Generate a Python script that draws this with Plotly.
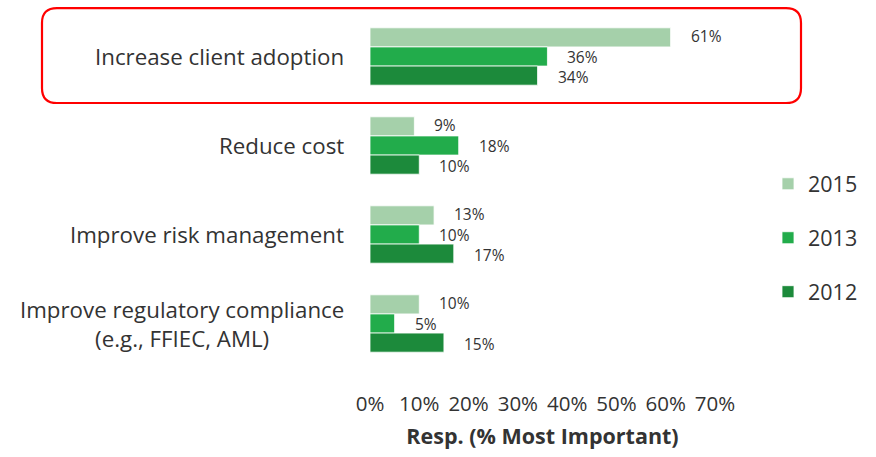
import plotly.graph_objects as go

# data --------------------------------------------------------------
categories = [
    "Increase client adoption",
    "Reduce cost",
    "Improve risk management",
    "Improve regulatory compliance<br>(e.g., FFIEC, AML)",
]
years = ["2015", "2013", "2012"]
vals_2015 = [61, 9, 13, 10]
vals_2013 = [36, 18, 10, 5]
vals_2012 = [34, 10, 17, 15]
x_ticks = [0, 10, 20, 30, 40, 50, 60, 70]

series = [vals_2015, vals_2013, vals_2012]
colors = ["#a5d0aa", "#22ac4b", "#1c8a3b"]

FONT = "'Open Sans', Lato, sans-serif"
TXT = "#333333"

W, H = 876, 457
L, R, T, B = 370, 161, 12, 85
PW, PH = W - L - R, H - T - B


def px(x, y):
    # pixel -> paper coords
    return (x - L) / PW, (H - B - y) / PH


fig = go.Figure()
for yr, vals, col in zip(years, series, colors):
    fig.add_bar(
        y=categories, x=vals, name=yr, orientation="h",
        marker=dict(color=col, line=dict(color="white", width=0.8)),
        legendgroup=yr, hoverinfo="skip",
    )

# value labels, one per bar
offsets = [-20.5, 0, 20.5]
for vals, dy in zip(series, offsets):
    for cat, v in zip(categories, vals):
        fig.add_annotation(
            x=v, y=cat, text=f"{v}%", showarrow=False,
            xanchor="left", xshift=18, yshift=-dy,
            font=dict(family=FONT, size=15.5, color=TXT),
        )

# category labels (centred multi-line like the original)
for cat in categories:
    fig.add_annotation(
        x=0, y=cat, xref="paper", text=cat, showarrow=False,
        xanchor="right", align="center", xshift=-24,
        font=dict(family=FONT, size=22.3, color=TXT),
    )

# rounded red highlight box
x0, y0 = px(42, 8)
x1, y1 = px(801, 104)
rx, ry = 15 / PW, 15 / PH
path = (f"M {x0+rx},{y0} L {x1-rx},{y0} Q {x1},{y0} {x1},{y0-ry} "
        f"L {x1},{y1+ry} Q {x1},{y1} {x1-rx},{y1} "
        f"L {x0+rx},{y1} Q {x0},{y1} {x0},{y1+ry} "
        f"L {x0},{y0-ry} Q {x0},{y0} {x0+rx},{y0} Z")
fig.add_shape(type="path", path=path, xref="paper", yref="paper",
              line=dict(color="#ff0000", width=2.2))

fig.update_layout(
    width=W, height=H,
    margin=dict(l=L, r=R, t=T, b=B),
    barmode="group", bargap=0.355, bargroupgap=0,
    plot_bgcolor="white", paper_bgcolor="white",
    font=dict(family=FONT, color=TXT),
    legend=dict(
        x=px(768, 0)[0], y=px(0, 165)[1], xanchor="left", yanchor="top",
        traceorder="grouped", tracegroupgap=23,
        font=dict(family=FONT, size=21.5, color=TXT),
        itemwidth=30, borderwidth=0,
    ),
)
fig.update_xaxes(
    range=[0, 70], tickvals=x_ticks, ticktext=[f"{t}%" for t in x_ticks],
    showgrid=False, zeroline=False, showline=False,
    tickfont=dict(family=FONT, size=20.5, color=TXT),
    ticklabelstandoff=21,
    title=dict(text="<b>Resp. (% Most Important)</b>", standoff=13,
               font=dict(family=FONT, size=21.5, color=TXT)),
    fixedrange=True,
)
fig.update_yaxes(
    autorange="reversed", showticklabels=False, showgrid=False,
    zeroline=False, showline=False, fixedrange=True,
)

# page body has a default 8px margin; drop it so the figure sits at 0,0
fig.write_html("out.html", config={"displayModeBar": False},
               post_script="document.body.style.margin='0';")
